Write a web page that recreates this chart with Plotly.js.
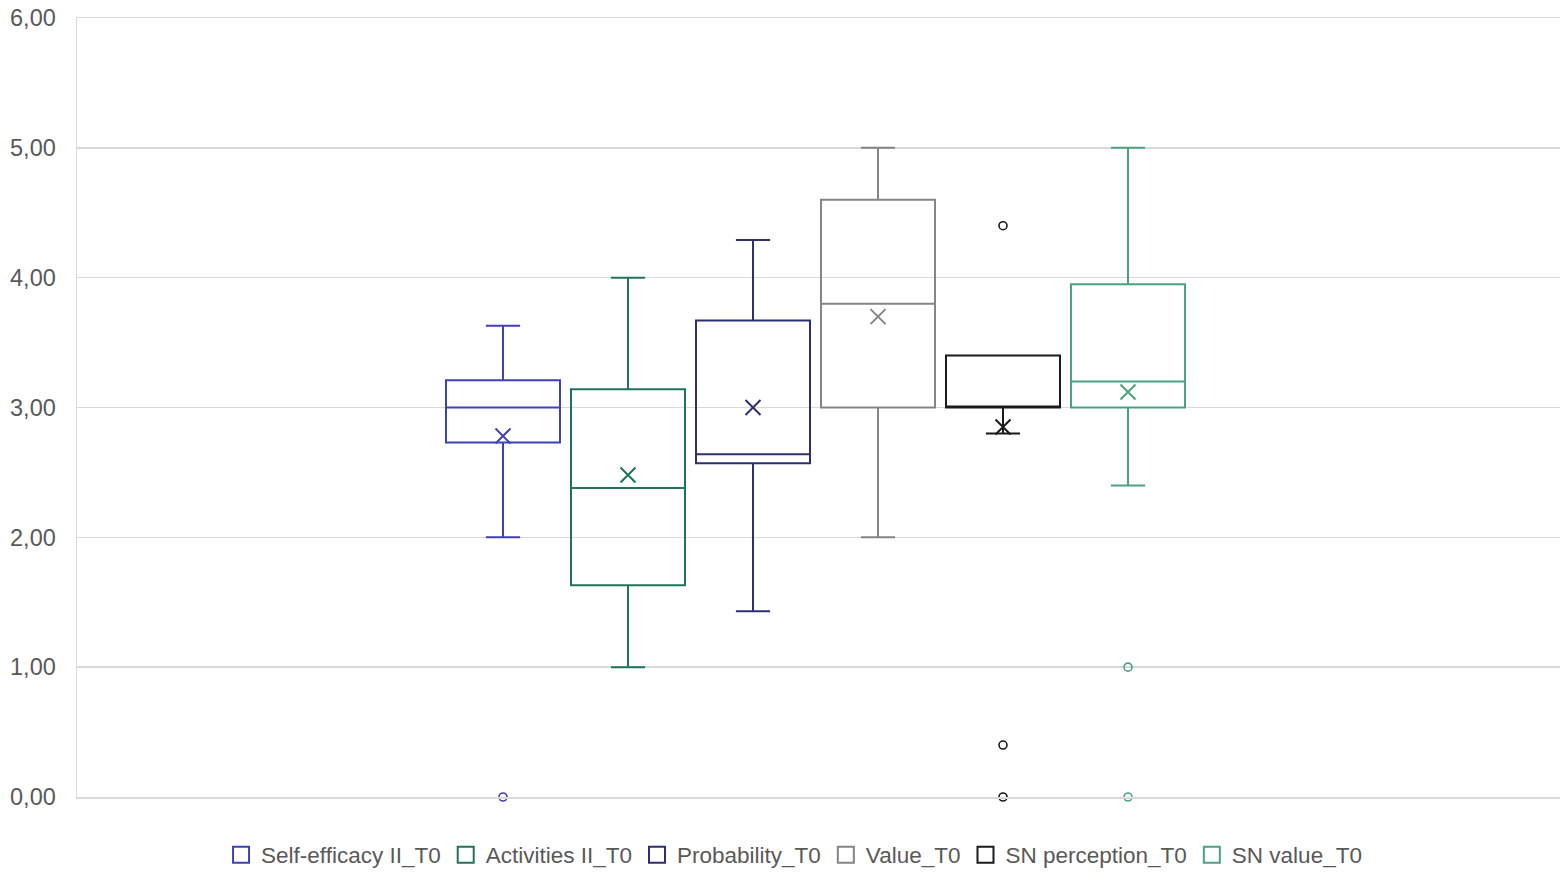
<!DOCTYPE html>
<html>
<head>
<meta charset="utf-8">
<script src="https://cdn.plot.ly/plotly-3.0.1.min.js"></script>
<style>html,body{margin:0;padding:0;background:#fff;}#chart{width:1560px;height:872px;}</style>
</head>
<body>
<div id="chart"></div>
<script>
// Series names (legend)
var seriesNames = ["Self-efficacy II_T0", "Activities II_T0", "Probability_T0", "Value_T0", "SN perception_T0", "SN value_T0"];
var seriesColors = ["#4040b8", "#1f7459", "#2e2e72", "#858585", "#1a1a1a", "#49a37f"];
// Box statistics
var lowerWhisker = [2.00, 1.00, 1.43, 2.00, 2.80, 2.40];
var q1Values     = [2.73, 1.63, 2.57, 3.00, 3.00, 3.00];
var medianValues = [3.00, 2.38, 2.64, 3.80, 3.00, 3.20];
var q3Values     = [3.21, 3.14, 3.67, 4.60, 3.40, 3.95];
var upperWhisker = [3.63, 4.00, 4.29, 5.00, 3.40, 5.00];
var meanValues   = [2.78, 2.48, 3.00, 3.70, 2.85, 3.12];
// Outlier points per series
var outliers = [[0.00], [], [], [], [4.40, 0.40, 0.00], [1.00, 0.00]];
var yTicks = [0, 1, 2, 3, 4, 5, 6];

var traces = [];
for (var i = 0; i < seriesNames.length; i++) {
  var pos = i + 1;
  traces.push({
    type: "box",
    name: seriesNames[i],
    x: [pos],
    q1: [q1Values[i]], median: [medianValues[i]], q3: [q3Values[i]],
    lowerfence: [lowerWhisker[i]], upperfence: [upperWhisker[i]],
    width: 0.912,
    whiskerwidth: 0.3,
    fillcolor: "rgba(255,255,255,0)",
    line: {color: seriesColors[i], width: 2},
    boxpoints: false,
    showlegend: false,
    hoverinfo: "skip"
  });
  traces.push({
    type: "scatter", mode: "markers",
    x: [pos], y: [meanValues[i]],
    marker: {symbol: "x-thin-open", size: 15, line: {color: seriesColors[i], width: 2}, color: seriesColors[i]},
    showlegend: false, hoverinfo: "skip", cliponaxis: false
  });
  if (outliers[i].length) {
    traces.push({
      type: "scatter", mode: "markers",
      x: outliers[i].map(function(){ return pos; }), y: outliers[i],
      marker: {symbol: "circle-open", size: 8, line: {color: seriesColors[i], width: 1.6}, color: seriesColors[i]},
      showlegend: false, hoverinfo: "skip", cliponaxis: false
    });
  }
}
// legend entries
for (var j = 0; j < seriesNames.length; j++) {
  traces.push({
    type: "scatter", mode: "markers",
    name: seriesNames[j],
    x: [null], y: [null],
    marker: {symbol: "square-open", size: 16, line: {color: seriesColors[j], width: 2}, color: seriesColors[j]},
    showlegend: true, hoverinfo: "skip"
  });
}

var layout = {
  width: 1560, height: 872,
  margin: {l: 77, r: 0, t: 18, b: 75, autoexpand: false},
  paper_bgcolor: "#ffffff", plot_bgcolor: "#ffffff",
  separators: ",.",
  font: {family: "Liberation Sans, Arial, sans-serif", color: "#595959", size: 22},
  showlegend: true,
  legend: {orientation: "h", x: 0.509, xref: "container", xanchor: "center",
           y: 1 - 855 / 872, yref: "container", yanchor: "middle",
           font: {size: 22.5, color: "#595959"}, itemsizing: "trace", traceorder: "normal",
           itemclick: false, tracegroupgap: 0, itemwidth: 30},
  xaxis: {range: [-2.408, 9.456], showgrid: false, zeroline: false, showticklabels: false,
          showline: true, mirror: "all", linecolor: "#d9d9d9", linewidth: 1.5, fixedrange: true},
  yaxis: {range: [0, 6], tickvals: yTicks, tickformat: ".2f", showgrid: true, gridcolor: "#d9d9d9", gridwidth: 1.5,
          zeroline: false, showline: true, linecolor: "#d9d9d9", linewidth: 1.5, ticks: "", ticklabelstandoff: 15,
          tickfont: {size: 23.5, color: "#595959"}, fixedrange: true}
};

Plotly.newPlot("chart", traces, layout, {displayModeBar: false, staticPlot: true});
</script>
</body>
</html>
